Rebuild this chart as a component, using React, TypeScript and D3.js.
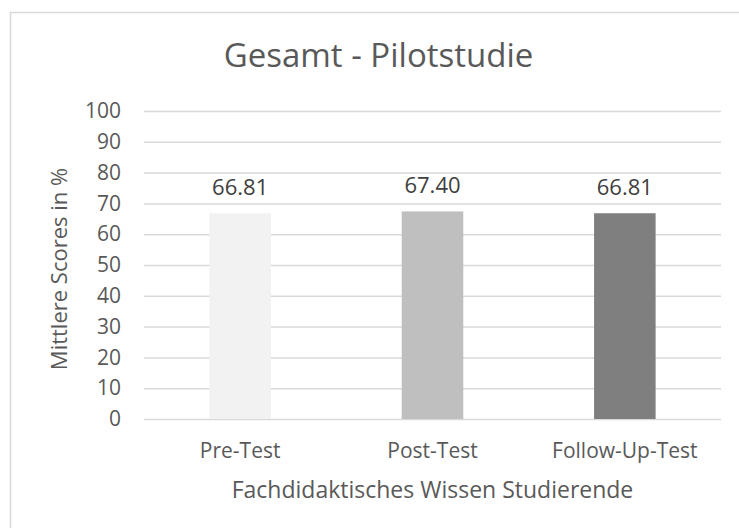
import React, { useRef, useEffect } from "react";
import { select, scaleLinear, scaleBand, axisLeft, range } from "d3";

const categories = ["Pre-Test", "Post-Test", "Follow-Up-Test"];
const values = [66.81, 67.4, 66.81];
const barColors = ["#f2f2f2", "#bfbfbf", "#7f7f7f"];
const yTicks = [0, 10, 20, 30, 40, 50, 60, 70, 80, 90, 100];

const title = "Gesamt - Pilotstudie";
const xTitle = "Fachdidaktisches Wissen Studierende";
const yTitle = "Mittlere Scores in %";

const width = 739;
const height = 528;
const margin = { top: 111, right: 18, bottom: 109, left: 144 };
const font = "'Open Sans', 'Noto Sans', sans-serif";
const textColor = "#595959";

export default function App() {
  const svgRef = useRef<SVGSVGElement>(null);

  useEffect(() => {
    document.body.style.margin = "0";
    const svg = select(svgRef.current);
    svg.selectAll("*").remove();

    const innerW = width - margin.left - margin.right;
    const innerH = height - margin.top - margin.bottom;

    const xScale = scaleBand()
      .domain(categories)
      .range([margin.left, margin.left + innerW])
      .paddingInner(0.68)
      .paddingOuter(0.34);

    const yScale = scaleLinear()
      .domain([0, 100])
      .range([margin.top + innerH, margin.top]);

    // chart border
    svg
      .append("rect")
      .attr("x", 10.5)
      .attr("y", 12.5)
      .attr("width", 760)
      .attr("height", 560)
      .attr("fill", "white")
      .attr("stroke", "#d9d9d9")
      .attr("stroke-width", 1.5);

    // gridlines + tick labels
    const yAxis = svg
      .append("g")
      .attr("transform", `translate(${margin.left},0)`)
      .call(
        axisLeft(yScale)
          .tickValues(yTicks)
          .tickSize(-innerW)
          .tickPadding(23)
      );
    yAxis.select(".domain").remove();
    yAxis
      .selectAll(".tick line")
      .attr("stroke", "#d9d9d9")
      .attr("stroke-width", 1.5);
    yAxis
      .selectAll(".tick text")
      .attr("fill", textColor)
      .attr("font-family", font)
      .attr("font-size", 21);

    // bars
    svg
      .selectAll(".bar")
      .data(values)
      .join("rect")
      .attr("class", "bar")
      .attr("x", (d, i) => xScale(categories[i]))
      .attr("y", (d) => yScale(d))
      .attr("width", xScale.bandwidth())
      .attr("height", (d) => yScale(0) - yScale(d))
      .attr("fill", (d, i) => barColors[i]);

    // data labels
    svg
      .selectAll(".dataLabel")
      .data(values)
      .join("text")
      .attr("class", "dataLabel")
      .attr("x", (d, i) => xScale(categories[i]) + xScale.bandwidth() / 2)
      .attr("y", (d) => yScale(d) - 18)
      .attr("text-anchor", "middle")
      .attr("fill", "#404040")
      .attr("font-family", font)
      .attr("font-size", 22)
      .text((d) => d.toFixed(2));

    // category labels
    svg
      .selectAll(".catLabel")
      .data(range(categories.length))
      .join("text")
      .attr("class", "catLabel")
      .attr("x", (i) => xScale(categories[i]) + xScale.bandwidth() / 2)
      .attr("y", 458)
      .attr("text-anchor", "middle")
      .attr("fill", textColor)
      .attr("font-family", font)
      .attr("font-size", 21)
      .text((i) => categories[i]);

    // titles
    svg
      .append("text")
      .attr("x", 378.5)
      .attr("y", 67)
      .attr("text-anchor", "middle")
      .attr("fill", textColor)
      .attr("font-family", font)
      .attr("font-size", 33)
      .text(title);

    svg
      .append("text")
      .attr("x", margin.left + innerW / 2)
      .attr("y", 498)
      .attr("text-anchor", "middle")
      .attr("fill", textColor)
      .attr("font-family", font)
      .attr("font-size", 23)
      .text(xTitle);

    svg
      .append("text")
      .attr("transform", `translate(67,${yScale(50) + 4}) rotate(-90)`)
      .attr("text-anchor", "middle")
      .attr("fill", textColor)
      .attr("font-family", font)
      .attr("font-size", 22)
      .text(yTitle);
  }, []);

  return <svg ref={svgRef} width={width} height={height} style={{ display: "block" }} />;
}
